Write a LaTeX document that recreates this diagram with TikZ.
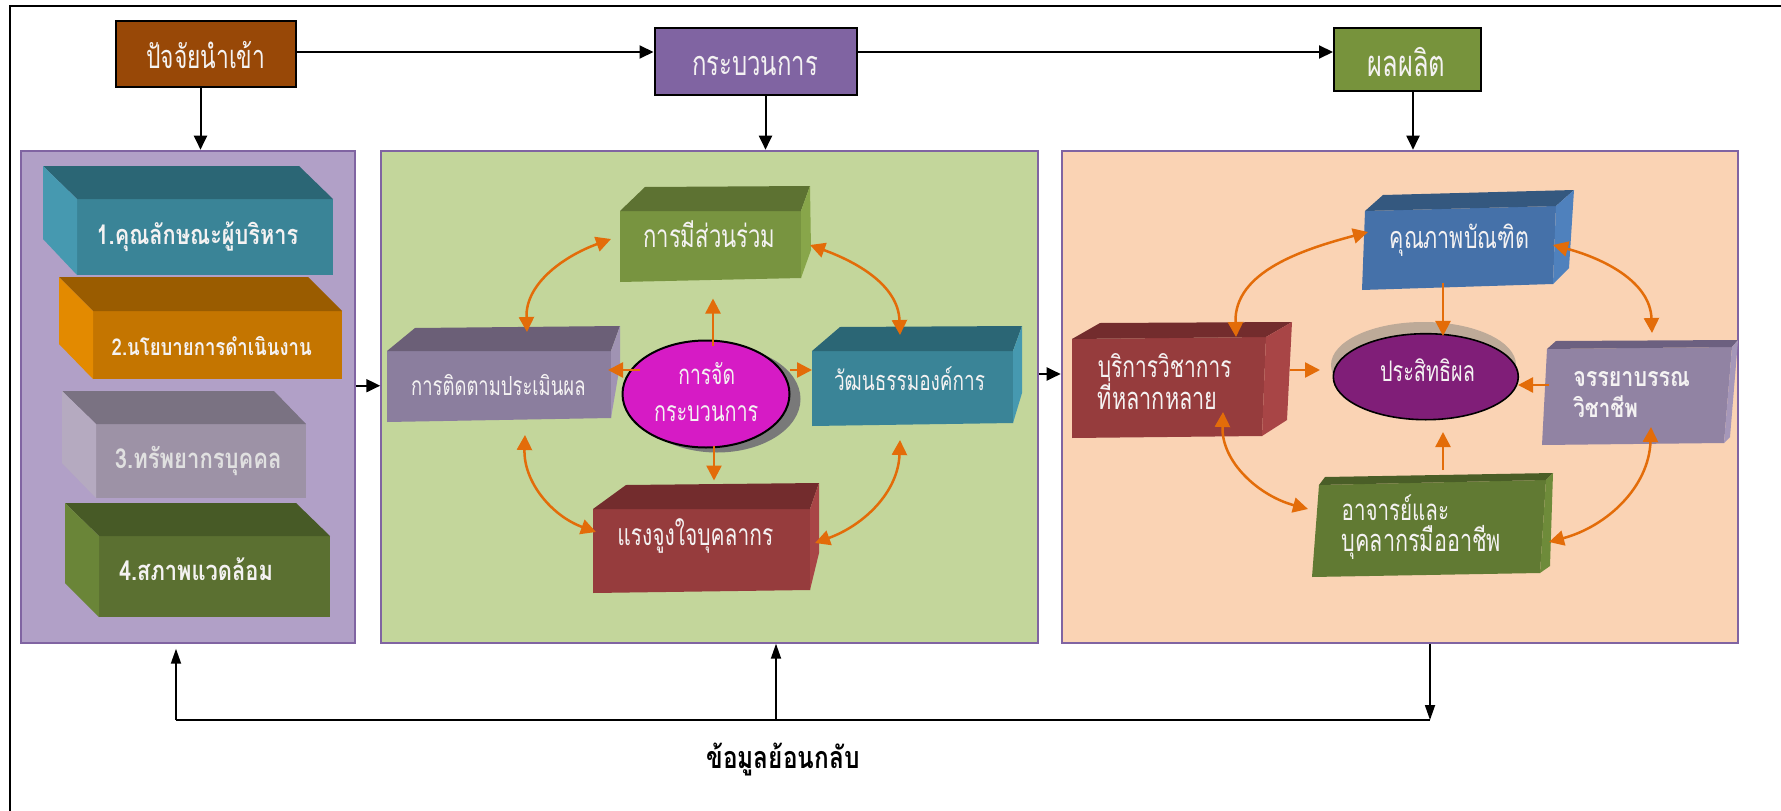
\documentclass[tikz,border=0pt]{standalone}
\usepackage{fontspec}
\usepackage{graphicx}
\usetikzlibrary{arrows.meta,shapes.geometric}
\newfontfamily\thaicond[Script=Thai,FakeStretch=0.7]{Loma}
\newfontfamily\thaiplain[Script=Thai,FakeStretch=0.8]{Loma}

% panel and box colours
\definecolor{panelline}{HTML}{8064A2}
\definecolor{inpanel}{HTML}{B1A0C7}
\definecolor{procpanel}{HTML}{C3D69B}
\definecolor{outpanel}{HTML}{FAD3B4}
\definecolor{inbox}{HTML}{984807}
\definecolor{procbox}{HTML}{8064A2}
\definecolor{outbox}{HTML}{77933C}
\definecolor{arrowor}{HTML}{E36C09}
% slab faces: f = front, t = top, s = side
\definecolor{tealf}{HTML}{3A8497}\definecolor{tealt}{HTML}{2B6675}\definecolor{teals}{HTML}{4699B0}
\definecolor{orangef}{HTML}{C47500}\definecolor{oranget}{HTML}{9A5C00}\definecolor{oranges}{HTML}{E38A00}
\definecolor{greyf}{HTML}{9D92A6}\definecolor{greyt}{HTML}{7A7282}\definecolor{greys}{HTML}{B5AAC0}
\definecolor{darkgf}{HTML}{5B7031}\definecolor{darkgt}{HTML}{475A26}\definecolor{darkgs}{HTML}{6A8538}
\definecolor{olivef}{HTML}{789440}\definecolor{olivet}{HTML}{5D7232}\definecolor{olives}{HTML}{88A64A}
\definecolor{mauvef}{HTML}{8B7E9E}\definecolor{mauvet}{HTML}{6B5F77}\definecolor{mauves}{HTML}{A093B3}
\definecolor{redf}{HTML}{963C3D}\definecolor{redt}{HTML}{732C2D}\definecolor{reds}{HTML}{A84546}
\definecolor{bluef}{HTML}{4571A9}\definecolor{bluet}{HTML}{34587F}\definecolor{blues}{HTML}{4F81BD}
\definecolor{lilacf}{HTML}{9183A3}\definecolor{lilact}{HTML}{6C6080}\definecolor{lilacs}{HTML}{A597B9}
\definecolor{mossf}{HTML}{617A33}\definecolor{mosst}{HTML}{4A5E27}\definecolor{mosss}{HTML}{6E8B3A}
\definecolor{magentafill}{HTML}{D61BC5}
\definecolor{plumfill}{HTML}{801E78}
\definecolor{tanshadow}{HTML}{BDAA98}
\definecolor{offwhite}{HTML}{F4F2F2}

% a slab: front face, top face, side face
\newcommand\slab[4]{\fill[#4f] #1; \fill[#4t] #2; \fill[#4s] #3;}
% text scaled to a given width
\newcommand\fitw[2]{\resizebox{#1pt}{!}{#2}}

\tikzset{
  panel/.style={draw=panelline, line width=2pt, inner sep=0pt},
  headbox/.style={draw=black, line width=2pt, inner sep=0pt},
  flowarrow/.style={-{Triangle[length=14pt,width=13pt]}, line width=2pt, draw=black},
  thinarrow/.style={-{Triangle[length=15pt,width=10pt]}, line width=1.8pt, draw=black},
  oarrow/.style={-{Triangle[length=15pt,width=15pt]}, line width=2.5pt, draw=arrowor},
  ocurve/.style={{Triangle[length=15pt,width=15pt]}-{Triangle[length=15pt,width=15pt]}, line width=2.5pt, draw=arrowor},
  txt/.style={inner sep=0pt, anchor=base, text=offwhite, font=\thaicond\fontsize{20}{24}\selectfont},
  txtl/.style={txt, anchor=base west},
  boldtxt/.style={txt, font=\thaiplain\bfseries\fontsize{20}{24}\selectfont},
}

\begin{document}
\begin{tikzpicture}[x=1pt,y=-1pt]
\useasboundingbox (0,0) rectangle (1781,811);
\fill[white] (0,0) rectangle (1781,811);

% page frame
\draw[line width=2pt] (1781,6) -- (10,6) -- (10,811);

% heading boxes
\node[headbox, fill=inbox, minimum width=180pt, minimum height=66pt] (inp) at (205.5,54) {};
\node[headbox, fill=procbox, minimum width=202pt, minimum height=67pt] (proc) at (755.5,61.5) {};
\node[headbox, fill=outbox, minimum width=147pt, minimum height=63pt] (outp) at (1407.5,59.7) {};

% panels
\node[panel, fill=inpanel, minimum width=334pt, minimum height=492pt] (pin) at (187.9,396.7) {};
\node[panel, fill=procpanel, minimum width=656.5pt, minimum height=492pt] (pmid) at (709.5,396.7) {};
\node[panel, fill=outpanel, minimum width=675.8pt, minimum height=492pt] (pout) at (1399.6,396.7) {};

% heading arrows
\draw[flowarrow] ([yshift=2pt]inp.east) -- ([yshift=2pt]inp.east -| proc.west);
\draw[flowarrow] ([yshift=2pt]inp.east -| proc.east) -- ([yshift=2pt]inp.east -| outp.west);
\draw[flowarrow] ([xshift=-5pt]inp.south) -- ([xshift=-5pt]inp.south |- pin.north);
\draw[flowarrow] ([xshift=10pt]proc.south) -- ([xshift=10pt]proc.south |- pmid.north);
\draw[flowarrow] ([xshift=5.5pt]outp.south) -- ([xshift=5.5pt]outp.south |- pout.north);
\draw[flowarrow] ([yshift=11pt]pin.east) -- ([yshift=11pt]pmid.west);
\draw[flowarrow] ([yshift=22.7pt]pmid.east) -- ([yshift=22.7pt]pout.west);

% feedback loop
\coordinate (fbL) at (176,720);
\coordinate (fbM) at (776,720);
\coordinate (fbR) at (1430,720);
\draw[line width=2.2pt] (fbL) -- (fbR);
\draw[thinarrow, shorten >=5pt] (fbL) -- (fbL |- pin.south);
\draw[thinarrow] (fbM) -- (fbM |- pmid.south);
\draw[thinarrow] (fbR |- pout.south) -- (fbR);
\node[boldtxt, text=black] (fbtext) at (783,768) {\fitw{153}{ข้อมูลย้อนกลับ}};

% input slabs (left faces visible)
\slab{(77,199) -- (333,199) -- (333,275) -- (77,275) -- cycle}
     {(43,166) -- (299,166) -- (333,199) -- (77,199) -- cycle}
     {(43,166) -- (77,199) -- (77,275) -- (43,239) -- cycle}{teal}
\slab{(93,311) -- (342,311) -- (342,379) -- (93,379) -- cycle}
     {(59,277) -- (308,277) -- (342,311) -- (93,311) -- cycle}
     {(59,277) -- (93,311) -- (93,379) -- (59,344) -- cycle}{orange}
\slab{(96,424) -- (306,424) -- (306,498) -- (96,498) -- cycle}
     {(62,391) -- (274,391) -- (306,424) -- (96,424) -- cycle}
     {(62,391) -- (96,424) -- (96,498) -- (62,463) -- cycle}{grey}
\slab{(99,536) -- (330,536) -- (330,617) -- (99,617) -- cycle}
     {(65,503) -- (296,503) -- (330,536) -- (99,536) -- cycle}
     {(65,503) -- (99,536) -- (99,617) -- (65,583) -- cycle}{darkg}

% process slabs (right faces visible)
\slab{(620,211) -- (801,211) -- (801,278) -- (620,282) -- cycle}
     {(645,187) -- (810,186) -- (801,211) -- (620,211) -- cycle}
     {(801,211) -- (810,186) -- (811,250) -- (801,278) -- cycle}{olive}
\slab{(387,351) -- (611,351) -- (611,418) -- (387,422) -- cycle}
     {(415,328) -- (620,326) -- (611,351) -- (387,351) -- cycle}
     {(611,351) -- (620,326) -- (620,365) -- (611,418) -- cycle}{mauve}
\slab{(812,351) -- (1013,351) -- (1013,423) -- (812,426) -- cycle}
     {(840,327) -- (1022,326) -- (1013,351) -- (812,351) -- cycle}
     {(1013,351) -- (1022,326) -- (1022,393) -- (1013,423) -- cycle}{teal}
\slab{(593,509) -- (810,509) -- (810,590) -- (593,593) -- cycle}
     {(626,485) -- (819,483) -- (810,509) -- (593,509) -- cycle}
     {(810,509) -- (819,483) -- (819,553) -- (810,590) -- cycle}{red}

% output slabs
\slab{(1365,211) -- (1556,206) -- (1553,284) -- (1362,290) -- cycle}
     {(1383,195) -- (1574,190) -- (1556,206) -- (1365,211) -- cycle}
     {(1556,206) -- (1574,190) -- (1569,268) -- (1553,284) -- cycle}{blue}
\slab{(1072,339) -- (1266,337) -- (1262,436) -- (1072,438) -- cycle}
     {(1100,323) -- (1292,322) -- (1266,337) -- (1072,339) -- cycle}
     {(1266,337) -- (1292,322) -- (1287,420) -- (1262,436) -- cycle}{red}
\slab{(1547,349) -- (1732,347) -- (1724,443) -- (1542,445) -- cycle}
     {(1556,341) -- (1738,340) -- (1732,347) -- (1547,349) -- cycle}
     {(1732,347) -- (1738,340) -- (1730,437) -- (1724,443) -- cycle}{lilac}
\slab{(1319,485) -- (1546,480) -- (1540,573) -- (1312,577) -- cycle}
     {(1325,477) -- (1553,473) -- (1546,480) -- (1319,485) -- cycle}
     {(1546,480) -- (1553,473) -- (1550,566) -- (1540,573) -- cycle}{moss}

% central ellipses with their shadows
\fill[gray!95!black] (717,399) ellipse [x radius=83.5pt, y radius=53.5pt];
\node[ellipse, draw=black, line width=2pt, fill=magentafill, minimum width=167pt, minimum height=107pt, inner sep=0pt] (e1) at (706,394) {};
\fill[tanshadow] (1423.5,365) ellipse [x radius=92.5pt, y radius=43pt];
\node[ellipse, draw=black, line width=1.6pt, fill=plumfill, minimum width=185pt, minimum height=86pt, inner sep=0pt] (e2) at (1425.8,376.7) {};

% anchor points of the curved links
\coordinate (m1w) at (611,239);  \coordinate (m1e) at (810,245);
\coordinate (m2n) at (527,332);  \coordinate (m2s) at (525,435);
\coordinate (m3n) at (900,335);  \coordinate (m3s) at (900,440);
\coordinate (m4w) at (596,532);  \coordinate (m4e) at (815,543);
\coordinate (r1w) at (1368,232); \coordinate (r1e) at (1553,245);
\coordinate (r2n) at (1236,337); \coordinate (r2s) at (1223,412);
\coordinate (r3n) at (1652,333); \coordinate (r3s) at (1651,427);
\coordinate (r4w) at (1308,509); \coordinate (r4e) at (1549,542);

% process links
\draw[ocurve] (m2n) to[out=92,in=200] (m1w);
\draw[ocurve] (m3n) to[out=92,in=-20] (m1e);
\draw[ocurve] (m2s) to[out=-92,in=160] (m4w);
\draw[ocurve] (m3s) to[out=-92,in=20] (m4e);
\draw[oarrow] ([xshift=7pt,yshift=-6pt]e1.north) -- ++(0,-47);
\draw[oarrow] (640,370) -- (608,370);
\draw[oarrow] (790,370) -- (812,370);
\draw[oarrow] ([xshift=8pt,yshift=3pt]e1.south) -- ++(0,35);

% output links
\draw[ocurve] (r2n) to[out=92,in=195] (r1w);
\draw[ocurve] (r3n) to[out=92,in=-15] (r1e);
\draw[ocurve] (r2s) to[out=-92,in=165] (r4w);
\draw[ocurve] (r3s) to[out=-92,in=15] (r4e);
\draw[oarrow] (1443,283) -- ([xshift=17pt,yshift=-3pt]e2.north -| 1426,0);
\draw[oarrow] (1443,470) -- (1443,432);
\draw[oarrow] (1290,370) -- (1320,370);
\draw[oarrow] (1549,385) -- (1518,385);

% heading texts
\node[txt] (tin) at (205.8,68) {\fitw{119}{ปัจจัยนำเข้า}};
\node[txt] (tproc) at (755,75) {\fitw{126}{กระบวนการ}};
\node[txt] (tout) at (1406.7,76) {\fitw{77.5}{ผลผลิต}};

% input texts
\node[boldtxt] (b1) at (197.5,244) {\fitw{201.7}{1.คุณลักษณะผู้บริหาร}};
\node[boldtxt] (b2) at (211.7,355) {\fitw{200}{2.นโยบายการดำเนินงาน}};
\node[boldtxt, text=white!88!black] (b3) at (198.3,468.3) {\fitw{166.7}{3.ทรัพยากรบุคคล}};
\node[boldtxt] (b4) at (196,580.7) {\fitw{154}{4.สภาพแวดล้อม}};

% process texts
\node[txt] (m1) at (709.4,247.7) {\fitw{132.3}{การมีส่วนร่วม}};
\node[txt] (m2) at (498.4,395) {\fitw{174.3}{การติดตามประเมินผล}};
\node[txt] (m3) at (909.5,390) {\fitw{151}{วัฒนธรรมองค์การ}};
\node[txt] (m4) at (695.3,545) {\fitw{156}{แรงจูงใจบุคลากร}};
\node[txt] (c1a) at (706.7,384) {\fitw{56.7}{การจัด}};
\node[txt] (c1b) at (706.2,421.7) {\fitw{104.3}{กระบวนการ}};

% output texts
\node[txt] (r1) at (1459.4,248.3) {\fitw{139.4}{คุณภาพบัณฑิต}};
\node[txt] (c2) at (1427.5,381.7) {\fitw{95}{ประสิทธิผล}};
\node[txtl] (r2a) at (1097.7,377.3) {\fitw{133.7}{บริการวิชาการ}};
\node[txtl] (r2b) at (1097.7,409.3) {\fitw{119.5}{ที่หลากหลาย}};
\node[txtl, font=\thaiplain\bfseries\fontsize{20}{24}\selectfont] (r3a) at (1573.1,386.7) {\fitw{116.7}{จรรยาบรรณ}};
\node[txtl, font=\thaiplain\bfseries\fontsize{20}{24}\selectfont] (r3b) at (1573.1,417.3) {\fitw{64.7}{วิชาชีพ}};
\node[txtl] (r4a) at (1341.5,520) {\fitw{107.3}{อาจารย์และ}};
\node[txtl] (r4b) at (1341.5,551.7) {\fitw{159.3}{บุคลากรมืออาชีพ}};
\end{tikzpicture}
\end{document}
